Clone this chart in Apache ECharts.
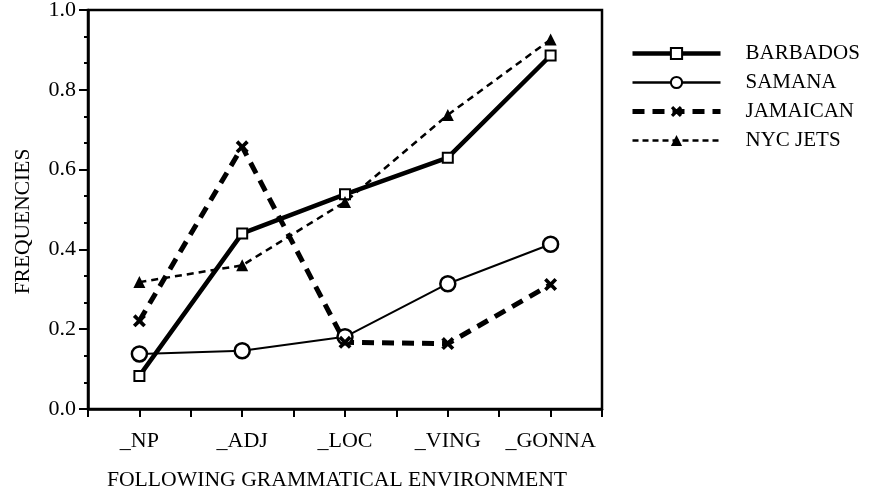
<!DOCTYPE html>
<html>
<head>
<meta charset="utf-8">
<script src="https://cdn.jsdelivr.net/npm/echarts@6/dist/echarts.min.js"></script>
<style>html,body{margin:0;padding:0;background:#fff}#c{width:870px;height:490px}</style>
</head>
<body>
<div id="c"></div>
<script>
var categories = ['_NP', '_ADJ', '_LOC', '_VING', '_GONNA'];
var barbados = [0.083, 0.44, 0.538, 0.63, 0.886];
var samana = [0.138, 0.146, 0.181, 0.314, 0.413];
var jamaican = [0.221, 0.657, 0.167, 0.164, 0.312];
var nycJets = [0.318, 0.36, 0.519, 0.737, 0.926];
var seriesNames = ['BARBADOS', 'SAMANA', 'JAMAICAN', 'NYC JETS'];
var yTicks = [0, 0.2, 0.4, 0.6, 0.8, 1.0];

var FONT = 'Liberation Serif';
var xShape = 'path://M0,2 L2,0 L5,3 L8,0 L10,2 L7,5 L10,8 L8,10 L5,7 L2,10 L0,8 L3,5 Z';

var chart = echarts.init(document.getElementById('c'));
chart.setOption({
  animation: false,
  backgroundColor: '#fff',
  textStyle: { fontFamily: FONT, color: '#000' },
  grid: { left: 88, top: 10, right: 268, bottom: 81, show: true, borderColor: '#000', borderWidth: 2.5,
    containLabel: false, outerBoundsMode: 'none' },
  legend: {
    orient: 'vertical', left: 630, top: 43, padding: 0,
    itemWidth: 88, itemHeight: 14, itemGap: 8,
    textStyle: { fontFamily: FONT, fontSize: 21, color: '#000', padding: [0, 0, 0, 20] },
    data: [
      { name: seriesNames[0], lineStyle: { width: 4.5 } },
      { name: seriesNames[1], lineStyle: { width: 2.5 } },
      { name: seriesNames[2], lineStyle: { width: 5, type: [12, 8] } },
      { name: seriesNames[3], lineStyle: { width: 2.5, type: [6, 4] } }
    ]
  },
  xAxis: [{
    type: 'category', data: categories, boundaryGap: true,
    axisLine: { lineStyle: { color: '#000', width: 2.5 } },
    axisTick: { show: true, interval: 0, alignWithLabel: false, length: 8, lineStyle: { color: '#000', width: 2 } },
    axisLabel: { fontFamily: FONT, fontSize: 22, color: '#000', margin: 21, interval: 0 },
    name: 'FOLLOWING GRAMMATICAL ENVIRONMENT', nameLocation: 'middle', nameGap: 60,
    nameTextStyle: { fontFamily: FONT, fontSize: 21.7, color: '#000', padding: [0, 16, 0, 0] },
    splitLine: { show: false }
  }, {
    type: 'category', data: categories, boundaryGap: true, position: 'bottom',
    axisLine: { show: false },
    axisTick: { show: true, interval: 0, alignWithLabel: true, length: 8, lineStyle: { color: '#000', width: 2 } },
    axisLabel: { show: false }, splitLine: { show: false }
  }],
  yAxis: {
    type: 'value', min: 0, max: 1, interval: 0.2,
    axisLine: { show: true, lineStyle: { color: '#000', width: 2.5 } },
    axisTick: { show: true, length: 9, lineStyle: { color: '#000', width: 2 } },
    minorTick: { show: true, splitNumber: 3, length: 4, lineStyle: { color: '#000', width: 2 } },
    axisLabel: { fontFamily: FONT, fontSize: 22, color: '#000', margin: 12,
      formatter: function (v) { return v.toFixed(1); } },
    splitLine: { show: false },
    name: 'FREQUENCIES', nameLocation: 'middle', nameGap: 54,
    nameTextStyle: { fontFamily: FONT, fontSize: 21.5, color: '#000', padding: [0, 24, 0, 0] }
  },
  series: [{
    name: seriesNames[0], type: 'line', data: barbados,
    symbol: 'rect', symbolSize: 10,
    lineStyle: { color: '#000', width: 4.5 },
    itemStyle: { color: '#fff', borderColor: '#000', borderWidth: 2 }
  }, {
    name: seriesNames[1], type: 'line', data: samana,
    symbol: 'circle', symbolSize: 15,
    lineStyle: { color: '#000', width: 2 },
    itemStyle: { color: '#fff', borderColor: '#000', borderWidth: 2.5 }
  }, {
    name: seriesNames[2], type: 'line', data: jamaican,
    symbol: xShape, symbolSize: 13,
    lineStyle: { color: '#000', width: 5, type: [12, 8] },
    itemStyle: { color: '#000', borderWidth: 0 }
  }, {
    name: seriesNames[3], type: 'line', data: nycJets,
    symbol: 'triangle', symbolSize: 12,
    lineStyle: { color: '#000', width: 2.5, type: [7, 5] },
    itemStyle: { color: '#000', borderWidth: 0 }
  }]
});
</script>
</body>
</html>
